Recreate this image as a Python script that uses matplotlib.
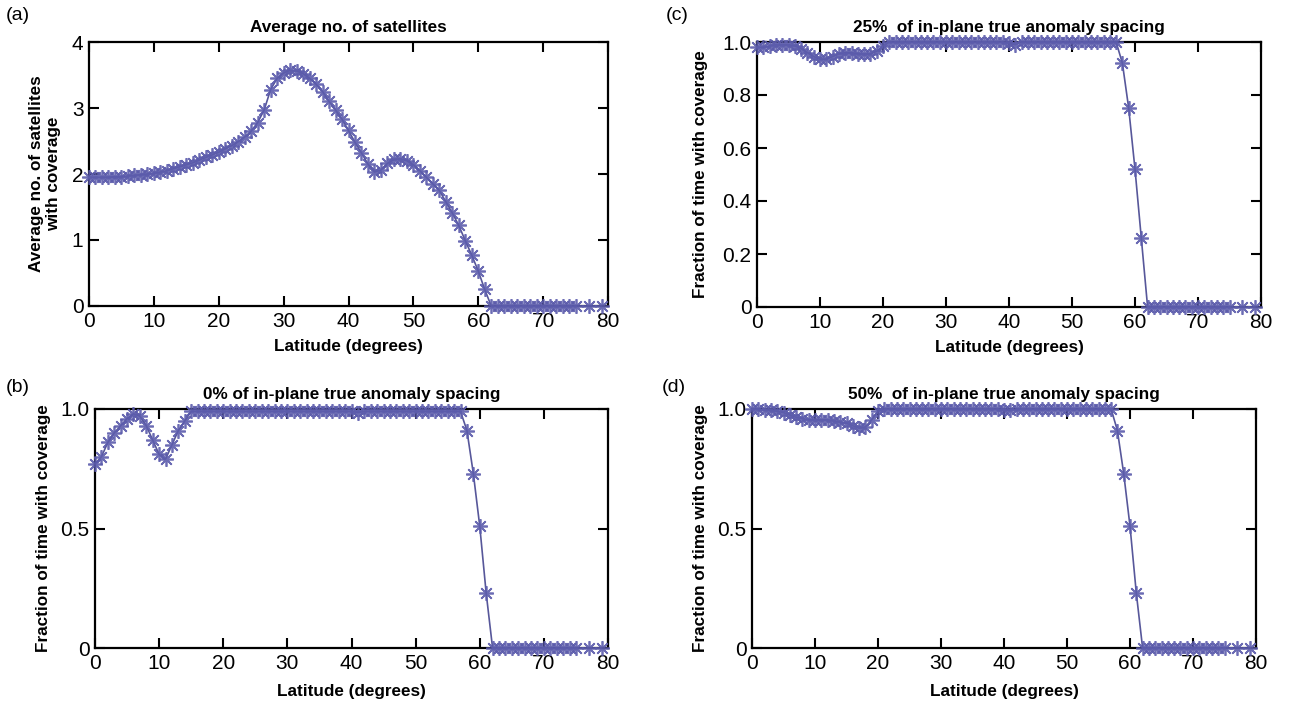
import matplotlib
matplotlib.use("Agg")
import matplotlib.pyplot as plt

# ---------------- data ----------------
latitude = list(range(0, 76)) + [77, 79]

avg_sats = [1.95, 1.95, 1.95, 1.95, 1.96, 1.96, 1.97, 1.98, 1.99, 2.00,
            2.01, 2.03, 2.05, 2.08, 2.11, 2.14, 2.17, 2.21, 2.25, 2.29,
            2.33, 2.38, 2.43, 2.49, 2.56, 2.65, 2.78, 2.97, 3.28, 3.45,
            3.53, 3.57, 3.56, 3.52, 3.45, 3.36, 3.25, 3.10, 2.97, 2.83,
            2.66, 2.48, 2.32, 2.15, 2.03, 2.06, 2.16, 2.22, 2.23, 2.20,
            2.14, 2.05, 1.95, 1.85, 1.75, 1.58, 1.41, 1.22, 0.99, 0.77,
            0.53, 0.25] + [0.0] * 16

frac_0 = [0.77, 0.80, 0.86, 0.90, 0.93, 0.96, 0.98, 0.97, 0.93, 0.87,
          0.81, 0.79, 0.85, 0.91, 0.95, 0.99, 0.99, 0.99, 0.99, 0.99,
          0.99, 0.99, 0.99, 0.99, 0.99, 0.99, 0.99, 0.99, 0.99, 0.99,
          0.99, 0.99, 0.99, 0.99, 0.99, 0.99, 0.99, 0.99, 0.99, 0.99,
          0.99, 0.985, 0.99, 0.99, 0.99, 0.99, 0.99, 0.99, 0.99, 0.99,
          0.99, 0.99, 0.99, 0.99, 0.99, 0.99, 0.99, 0.99, 0.91, 0.73,
          0.51, 0.23] + [0.0] * 16

frac_25 = [0.98, 0.98, 0.985, 0.99, 0.99, 0.99, 0.985, 0.975, 0.96, 0.945,
           0.935, 0.935, 0.945, 0.955, 0.96, 0.96, 0.955, 0.955, 0.955, 0.965,
           0.985, 1.0, 1.0, 1.0, 1.0, 1.0, 1.0, 1.0, 1.0, 1.0,
           1.0, 1.0, 1.0, 1.0, 1.0, 1.0, 1.0, 1.0, 1.0, 1.0,
           0.995, 0.99, 1.0, 1.0, 1.0, 1.0, 1.0, 1.0, 1.0, 1.0,
           1.0, 1.0, 1.0, 1.0, 1.0, 1.0, 1.0, 1.0, 0.92, 0.75,
           0.52, 0.26] + [0.0] * 16

frac_50 = [1.0, 1.0, 0.995, 0.995, 0.99, 0.985, 0.975, 0.965, 0.96, 0.955,
           0.955, 0.955, 0.955, 0.95, 0.945, 0.94, 0.93, 0.92, 0.925, 0.955,
           0.99, 1.0, 1.0, 1.0, 1.0, 1.0, 1.0, 1.0, 1.0, 1.0,
           1.0, 1.0, 1.0, 1.0, 1.0, 1.0, 1.0, 1.0, 1.0, 1.0,
           0.995, 0.995, 1.0, 1.0, 1.0, 1.0, 1.0, 1.0, 1.0, 1.0,
           1.0, 1.0, 1.0, 1.0, 1.0, 1.0, 1.0, 1.0, 0.91, 0.73,
           0.51, 0.23] + [0.0] * 16

x_ticks = [0, 10, 20, 30, 40, 50, 60, 70, 80]
x_ticklabels = ["0", "10", "20", "30", "40", "50", "60", "70", "80"]
yticks_a = [0, 1, 2, 3, 4]
yticklabels_a = ["0", "1", "2", "3", "4"]
yticks_half = [0, 0.5, 1.0]
yticklabels_half = ["0", "0.5", "1.0"]
yticks_fifth = [0, 0.2, 0.4, 0.6, 0.8, 1.0]
yticklabels_fifth = ["0", "0.2", "0.4", "0.6", "0.8", "1.0"]

titles = ["Average no. of satellites",
          "0% of in-plane true anomaly spacing",
          "25%  of in-plane true anomaly spacing",
          "50%  of in-plane true anomaly spacing"]
panel_tags = ["(a)", "(b)", "(c)", "(d)"]
xlabel = "Latitude (degrees)"
ylabel_a = "Average no. of satellites\nwith coverage"
ylabel_frac = "Fraction of time with coverage"

# ---------------- style ----------------
W, H = 1290, 708
fig = plt.figure(figsize=(W / 100, H / 100), dpi=100)

bold_font = dict(family=["Liberation Sans", "DejaVu Sans"],
                 weight="bold", size=12.3)
tick_font = ["Liberation Sans", "DejaVu Sans"]
line_color = "#45458f"


def px_rect(left, right, top, bottom):
    return [left / W, 1 - bottom / H, (right - left) / W, (bottom - top) / H]


panels = [
    dict(rect=px_rect(89, 608, 42, 306), y=avg_sats, ylim=(0, 4),
         yt=yticks_a, ytl=yticklabels_a, title=titles[0], ylabel=ylabel_a,
         ylab_x=(45 - 89) / 519, xlab_y=-0.155, tag=panel_tags[0], tagpos=(6, 15)),
    dict(rect=px_rect(95, 608, 409, 648), y=frac_0, ylim=(0, 1),
         yt=yticks_half, ytl=yticklabels_half, title=titles[1], ylabel=ylabel_frac,
         ylab_x=(43 - 95) / 513, xlab_y=-0.184, tag=panel_tags[1], tagpos=(6, 388)),
    dict(rect=px_rect(757, 1261, 42, 307), y=frac_25, ylim=(0, 1),
         yt=yticks_fifth, ytl=yticklabels_fifth, title=titles[2], ylabel=ylabel_frac,
         ylab_x=(701 - 757) / 504, xlab_y=-0.152, tag=panel_tags[2], tagpos=(666, 16)),
    dict(rect=px_rect(752, 1256, 409, 648), y=frac_50, ylim=(0, 1),
         yt=yticks_half, ytl=yticklabels_half, title=titles[3], ylabel=ylabel_frac,
         ylab_x=(701 - 752) / 504, xlab_y=-0.184, tag=panel_tags[3], tagpos=(662, 388)),
]

for p in panels:
    ax = fig.add_axes(p["rect"])
    ax.plot(latitude, p["y"], color=line_color, lw=1.2, alpha=0.9,
            marker=(8, 2, 0), markersize=10.5, markeredgewidth=1.25,
            markeredgecolor="#5c5cac", clip_on=False, zorder=3)
    ax.set_xlim(0, 80)
    ax.set_ylim(*p["ylim"])
    ax.set_xticks(x_ticks)
    ax.set_xticklabels(x_ticklabels, family=tick_font, fontsize=15)
    ax.set_yticks(p["yt"])
    ax.set_yticklabels(p["ytl"], family=tick_font, fontsize=15)
    ax.tick_params(direction="in", length=7, width=1.5, top=True, right=True,
                   pad=4)
    for s in ax.spines.values():
        s.set_linewidth(1.6)
    ax.set_title(p["title"], pad=7, **bold_font)
    ax.set_xlabel(xlabel, va="center", **bold_font)
    ax.xaxis.set_label_coords(0.5, p["xlab_y"])
    ax.set_ylabel(p["ylabel"], va="center", ha="center", linespacing=1.1,
                  **bold_font)
    ax.yaxis.set_label_coords(p["ylab_x"], 0.5)
    fig.text(p["tagpos"][0] / W, 1 - p["tagpos"][1] / H, p["tag"],
             family=tick_font, fontsize=14, ha="left", va="center")

fig.savefig("out.png", dpi=100)
